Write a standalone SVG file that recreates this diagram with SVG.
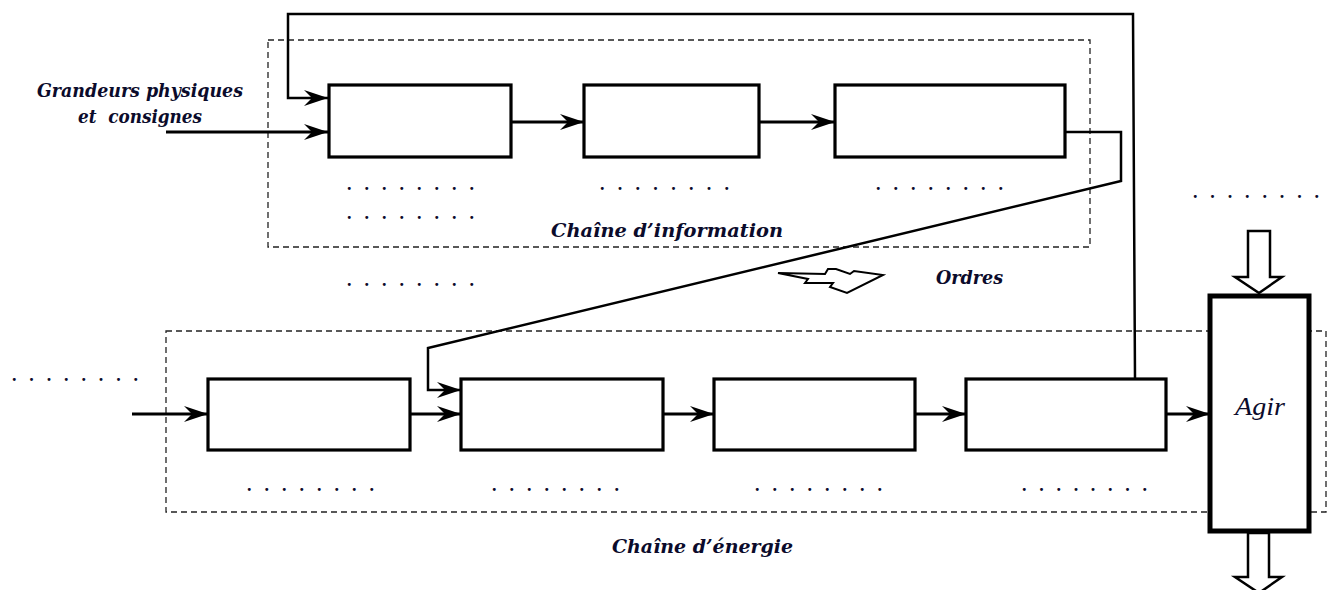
<svg xmlns="http://www.w3.org/2000/svg" width="1331" height="590" viewBox="0 0 1331 590">
<style>
.box{fill:#fff;stroke:#000;stroke-width:3.2}
.dash{fill:none;stroke:#222;stroke-width:1.3;stroke-dasharray:6 4}
.ln{fill:none;stroke:#000;stroke-width:3.2}
.fb{fill:none;stroke:#000;stroke-width:2.5}
.lbl{font-family:"DejaVu Serif","Liberation Serif",serif;font-weight:bold;font-style:italic;fill:#0b0b2b}
.dots{font-family:"Liberation Serif",serif;font-weight:bold;font-size:18px;fill:#0b0b2b}
.hol{fill:#fff;stroke:#000;stroke-width:2.5;stroke-linejoin:miter}
</style>
<defs>
<marker id="ah" markerUnits="userSpaceOnUse" markerWidth="30" markerHeight="20" refX="24" refY="8" orient="auto" viewBox="0 0 30 20">
<path d="M24,8 L0,0 L8,8 L0,16 Z" fill="#000"/>
</marker>
</defs>
<rect width="1331" height="590" fill="#fff"/>
<g id="chaine-information-frame">
<rect class="dash" x="268" y="40" width="822" height="207"/>
<text class="lbl" x="551" y="237" font-size="19" textLength="232" lengthAdjust="spacingAndGlyphs">Chaîne d’information</text>
</g>
<g id="chaine-energie-frame">
<rect class="dash" x="166" y="331" width="1160" height="181"/>
<text class="lbl" x="612" y="553" font-size="19" textLength="181" lengthAdjust="spacingAndGlyphs">Chaîne d’énergie</text>
</g>
<g id="info1"><rect class="box" x="329" y="85" width="182" height="72"/></g>
<g id="info2"><rect class="box" x="584" y="85" width="175" height="72"/></g>
<g id="info3"><rect class="box" x="835" y="85" width="230" height="72"/></g>
<g id="energie1"><rect class="box" x="208" y="379" width="202" height="71"/></g>
<g id="energie2"><rect class="box" x="461" y="379" width="202" height="71"/></g>
<g id="energie3"><rect class="box" x="714" y="379" width="201" height="71"/></g>
<g id="energie4"><rect class="box" x="966" y="379" width="200" height="71"/></g>
<g id="agir">
<rect x="1210" y="296" width="99" height="235" fill="#fff" stroke="#000" stroke-width="5"/>
<text x="1235" y="415" font-family="'Liberation Serif',serif" font-style="italic" font-size="25" fill="#0b0b2b" textLength="50" lengthAdjust="spacingAndGlyphs">Agir</text>
</g>
<g id="connectors">
<path class="ln" d="M166,132 H328" marker-end="url(#ah)"/>
<path class="fb" d="M1135,378 L1133,14 H288 V98 H328" marker-end="url(#ah)"/>
<path class="ln" d="M511,122 H584" marker-end="url(#ah)"/>
<path class="ln" d="M759,122 H835" marker-end="url(#ah)"/>
<path class="fb" d="M1065,132 H1121 V181 L428,348 V390 H461" marker-end="url(#ah)"/>
<path class="ln" d="M132,414 H208" marker-end="url(#ah)"/>
<path class="ln" d="M410,414 H461" marker-end="url(#ah)"/>
<path class="ln" d="M663,414 H714" marker-end="url(#ah)"/>
<path class="ln" d="M915,414 H966" marker-end="url(#ah)"/>
<path class="ln" d="M1166,414 H1210" marker-end="url(#ah)"/>
<polygon class="hol" points="1248,231 1270,231 1270,277 1282,277 1259,293 1235,277 1248,277"/>
<polygon class="hol" points="1248,533 1269,533 1269,577 1282,577 1259,593 1235,577 1248,577"/>
<polygon fill="#fff" stroke="#000" stroke-width="2" stroke-linejoin="miter" points="778,273 825,274 828,269 836,269 850,274 854,271 883,275 847,293 830,287 833,283 805,283 808,279"/>
</g>
<g id="labels">
<text class="lbl" x="37" y="97" font-size="18" textLength="206" lengthAdjust="spacingAndGlyphs">Grandeurs physiques</text>
<text class="lbl" x="78" y="123" font-size="18" xml:space="preserve" textLength="124" lengthAdjust="spacingAndGlyphs">et  consignes</text>
<text class="lbl" x="936" y="284" font-size="18" textLength="67" lengthAdjust="spacingAndGlyphs">Ordres</text>
</g>
<g id="blanks">
<text class="dots" x="347" y="190" textLength="127" lengthAdjust="spacing">. . . . . . . .</text>
<text class="dots" x="347" y="219" textLength="127" lengthAdjust="spacing">. . . . . . . .</text>
<text class="dots" x="347" y="286" textLength="127" lengthAdjust="spacing">. . . . . . . .</text>
<text class="dots" x="600" y="190" textLength="129" lengthAdjust="spacing">. . . . . . . .</text>
<text class="dots" x="876" y="190" textLength="127" lengthAdjust="spacing">. . . . . . . .</text>
<text class="dots" x="1193" y="198" textLength="126" lengthAdjust="spacing">. . . . . . . .</text>
<text class="dots" x="12" y="381" textLength="126" lengthAdjust="spacing">. . . . . . . .</text>
<text class="dots" x="247" y="491" textLength="127" lengthAdjust="spacing">. . . . . . . .</text>
<text class="dots" x="492" y="491" textLength="127" lengthAdjust="spacing">. . . . . . . .</text>
<text class="dots" x="755" y="491" textLength="127" lengthAdjust="spacing">. . . . . . . .</text>
<text class="dots" x="1022" y="491" textLength="125" lengthAdjust="spacing">. . . . . . . .</text>
</g>
</svg>
